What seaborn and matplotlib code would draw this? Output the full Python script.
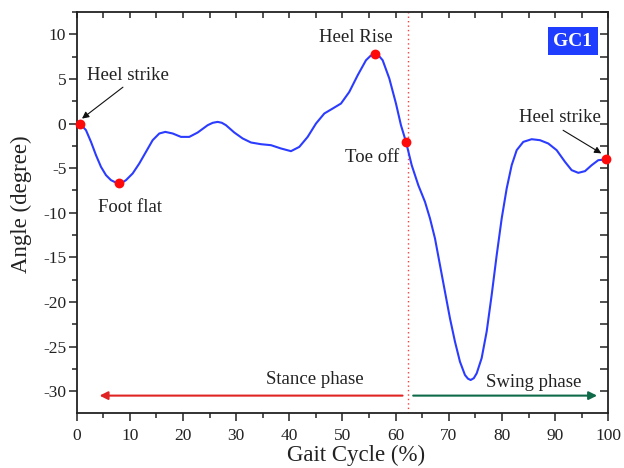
import matplotlib
matplotlib.use("Agg")
import matplotlib.pyplot as plt
import seaborn as sns
import pandas as pd
from matplotlib.ticker import MultipleLocator

# ---- data ----
gait = [0.62, 1.75, 2.69, 3.63, 4.57, 5.51, 6.45, 7.2, 8.02, 8.7, 9.27, 10.53,
        11.78, 13.03, 14.29, 15.54, 16.67, 18.06, 19.62, 21.18, 22.76, 24.64,
        25.6, 26.52, 27.3, 28.08, 29.65, 31.23, 32.79, 34.67, 36.55, 38.43,
        40.31, 41.88, 43.45, 45.02, 46.58, 48.16, 49.72, 51.28, 52.86, 54.42,
        55.3, 56.11, 56.9, 57.56, 58.81, 60.06, 61.0, 61.95, 63.02, 64.26,
        65.52, 66.46, 67.4, 68.34, 69.28, 70.22, 71.16, 72.1, 73.04, 73.6,
        74.11, 74.7, 75.25, 76.18, 77.13, 78.07, 79.01, 79.95, 80.89, 81.83,
        82.77, 84.01, 85.59, 87.15, 88.71, 90.29, 91.86, 93.11, 94.36, 95.62,
        96.88, 98.12, 99.5]
angle = [0.0, -0.75, -2.06, -3.55, -4.86, -5.79, -6.35, -6.57, -6.65, -6.57,
         -6.35, -5.6, -4.48, -3.18, -1.87, -1.12, -0.94, -1.12, -1.5, -1.5,
         -1.01, -0.19, 0.08, 0.18, 0.08, -0.19, -1.01, -1.68, -2.13, -2.32,
         -2.43, -2.8, -3.1, -2.62, -1.5, 0.0, 1.12, 1.68, 2.24, 3.54, 5.41,
         7.09, 7.6, 7.76, 7.55, 7.09, 5.04, 2.24, -0.19, -2.06, -4.67, -6.91,
         -8.78, -10.64, -12.88, -15.87, -18.86, -21.84, -24.45, -26.7, -28.19,
         -28.6, -28.75, -28.55, -28.0, -26.3, -23.3, -19.2, -14.75, -10.64,
         -7.28, -4.67, -2.99, -2.06, -1.76, -1.87, -2.24, -2.99, -4.3, -5.23,
         -5.53, -5.34, -4.67, -4.11, -4.03]

event_names = ["Heel strike", "Foot flat", "Heel Rise", "Toe off", "Heel strike"]
event_x = [0.62, 8.02, 56.11, 61.95, 99.5]
event_y = [0.0, -6.65, 7.76, -2.06, -4.03]

toe_off_line = 62.4
phase_names = ["Stance phase", "Swing phase"]
phase_y = -30.5

xticks = [0, 10, 20, 30, 40, 50, 60, 70, 80, 90, 100]
yticks = [-30, -25, -20, -15, -10, -5, 0, 5, 10]

# ---- style ----
sns.set_style("ticks")
plt.rcParams["font.family"] = ["Liberation Serif", "DejaVu Serif"]
plt.rcParams["axes.unicode_minus"] = False

fig = plt.figure(figsize=(6.24, 4.68), dpi=100)
ax = fig.add_axes([0.1229, 0.1175, 0.8519, 0.8569])

df = pd.DataFrame({"gait": gait, "angle": angle})
sns.lineplot(data=df, x="gait", y="angle", sort=False, color="#2b3cff",
             linewidth=1.5, ax=ax, zorder=3)

ev = pd.DataFrame({"x": event_x, "y": event_y})
sns.scatterplot(data=ev, x="x", y="y", color="#ff0a0a", s=50, linewidth=0,
                ax=ax, zorder=4, clip_on=False)

ax.axvline(toe_off_line, color="#ff3b3b", linestyle=(0, (1, 2.2)), linewidth=1.0,
           zorder=2)

ax.set_xlim(0, 100)
ax.set_ylim(-32.45, 12.5)
ax.set_xticks(xticks)
ax.set_yticks(yticks)
ax.xaxis.set_minor_locator(MultipleLocator(5))
ax.yaxis.set_minor_locator(MultipleLocator(2.5))
ax.tick_params(which="major", direction="out", length=6, width=1.1,
               labelsize=12.5, colors="#222222")
ax.tick_params(axis="x", which="major", pad=5)
ax.tick_params(axis="y", which="major", pad=1.5)
ax.tick_params(which="minor", direction="out", length=3.5, width=1.1,
               colors="#222222")
for sp in ax.spines.values():
    sp.set_visible(True)
    sp.set_linewidth(1.3)
    sp.set_color("#222222")

# top & right inward ticks
top = ax.secondary_xaxis("top")
top.set_xticks([i * 5 for i in range(21)])
top.tick_params(direction="in", length=4, width=1.1, labeltop=False,
                colors="#222222")
top.spines["top"].set_visible(False)
right = ax.secondary_yaxis("right")
right.set_yticks([-30 + 2.5 * i for i in range(18)])
right.tick_params(direction="in", length=5.5, width=1.1, labelright=False,
                  colors="#222222")
right.spines["right"].set_visible(False)

ax.set_xlabel("Gait Cycle (%)", fontsize=16.5, color="#222222")
ax.xaxis.set_label_coords(0.526, -0.08)
ax.set_ylabel("Angle (degree)", fontsize=16.5, color="#222222")
ax.yaxis.set_label_coords(-0.084, 0.52)

tc = "#222222"
fs = 13.5
arrow_kw = dict(arrowstyle="-|>", color="#111111", lw=0.8, mutation_scale=10,
                shrinkA=0, shrinkB=0)
ax.text(9.7, 5.4, event_names[0], fontsize=fs, color=tc, ha="center", va="center")
ax.annotate("", xy=(1.0, 0.55), xytext=(8.7, 4.07), arrowprops=arrow_kw)
ax.text(10.0, -9.4, event_names[1], fontsize=fs, color=tc, ha="center", va="center")
ax.text(52.5, 9.66, event_names[2], fontsize=fs, color=tc, ha="center", va="center")
ax.text(55.5, -3.77, event_names[3], fontsize=fs, color=tc, ha="center", va="center")
ax.text(90.9, 0.7, event_names[4], fontsize=fs, color=tc, ha="center", va="center")
ax.annotate("", xy=(98.7, -3.35), xytext=(91.5, -0.76), arrowprops=arrow_kw)

ax.text(0.97, 0.927, "GC1", transform=ax.transAxes, fontsize=14,
        fontweight="bold", color="white", ha="right", va="center",
        bbox=dict(boxstyle="square,pad=0.28", facecolor="#1f3dff",
                  edgecolor="none"))

# phase arrows
ax.annotate("", xy=(4.3, phase_y), xytext=(61.3, phase_y),
            arrowprops=dict(arrowstyle="-|>", color="#e02424", lw=1.5,
                            mutation_scale=12, shrinkA=0, shrinkB=0))
ax.annotate("", xy=(97.9, phase_y), xytext=(63.3, phase_y),
            arrowprops=dict(arrowstyle="-|>", color="#0e6a48", lw=1.5,
                            mutation_scale=12, shrinkA=0, shrinkB=0))
ax.text(44.8, -28.7, phase_names[0], fontsize=fs, color=tc, ha="center", va="center")
ax.text(85.9, -29.05, phase_names[1], fontsize=fs, color=tc, ha="center", va="center")

fig.savefig("out.png", dpi=100)
